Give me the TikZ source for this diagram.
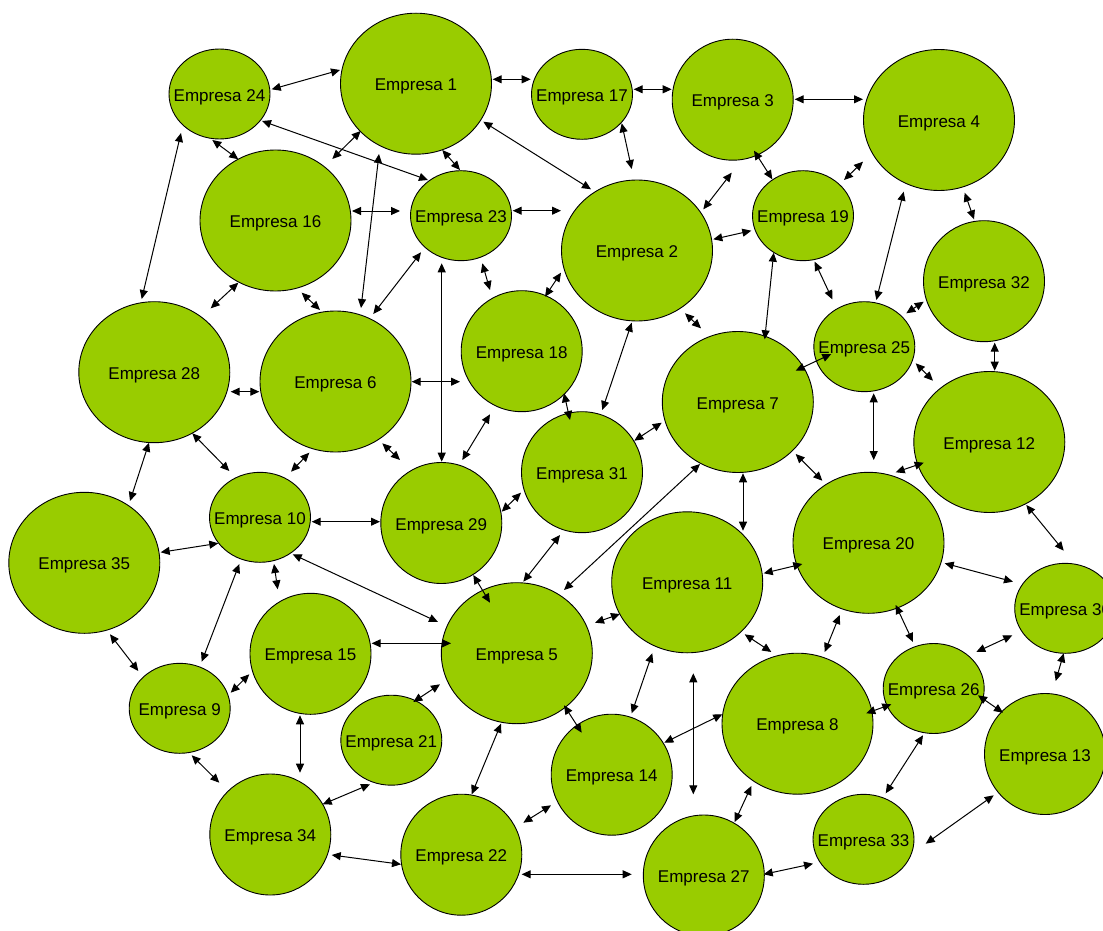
\documentclass[tikz,border=0pt]{standalone}
\usepackage{fontspec}
\setmainfont{Liberation Sans}
\usetikzlibrary{shapes.geometric,arrows.meta}
\definecolor{leaf}{RGB}{153,204,0}
\tikzset{
  firm/.style={ellipse, draw=black, line width=0.9pt, fill=leaf, inner sep=0pt},
  big/.style={firm, minimum width=151pt, minimum height=141pt},
  mid/.style={firm, minimum width=121pt, minimum height=121pt},
  small/.style={firm, minimum width=101pt, minimum height=90pt},
  link/.style={draw=black, line width=1pt,
    {Triangle[length=9pt,width=8pt]}-{Triangle[length=9pt,width=8pt]}},
}
% one company: size style, number, centre
\newcommand\firm[4]{\node[#1, label={[yshift=-3pt]center:{Empresa #2}}] (e#2) at (#3,#4) {};}
% one two-way relation between named end points
\newcommand\lnk[3]{\coordinate (#1a) at (#2); \coordinate (#1b) at (#3); \draw[link] (#1a) -- (#1b);}
\begin{document}
\begin{tikzpicture}[x=1pt,y=-1pt,font=\fontsize{17}{20}\selectfont]
\useasboundingbox (0,0) rectangle (1103,931);
\fill[white] (0,0) rectangle (1103,931);
\clip (0,0) rectangle (1103,931);

% companies
\firm{big}{1}{416}{83.7}
\firm{big}{16}{275.5}{220.5}
\firm{big}{2}{637}{250.5}
\firm{big}{4}{939}{120}
\firm{big}{28}{154.3}{372.2}
\firm{big}{6}{335.5}{381.5}
\firm{big}{7}{737.8}{402}
\firm{big}{12}{989.3}{442}
\firm{big}{35}{84.3}{562.8}
\firm{big}{20}{868.5}{542.8}
\firm{big}{11}{687.2}{582.3}
\firm{big}{5}{516.8}{653.2}
\firm{big}{8}{797.5}{723.7}
\firm{mid}{3}{732.7}{99.7}
\firm{mid}{18}{521.7}{351.2}
\firm{mid}{32}{984}{281.2}
\firm{mid}{31}{582}{472.2}
\firm{mid}{29}{441.3}{523}
\firm{mid}{15}{310.5}{653.8}
\firm{mid}{34}{270.3}{834.5}
\firm{mid}{14}{611.7}{774.7}
\firm{mid}{22}{461.3}{854.7}
\firm{mid}{27}{703.8}{875.5}
\firm{mid}{13}{1045}{754}
\firm{small}{24}{219.5}{94}
\firm{small}{17}{582}{94.3}
\firm{small}{23}{461}{215.7}
\firm{small}{19}{803}{215.7}
\firm{small}{25}{864.3}{346.7}
\firm{small}{10}{260}{517.3}
\firm{small}{30}{1065.2}{608.3}
\firm{small}{9}{179.7}{708.3}
\firm{small}{21}{391.3}{740.2}
\firm{small}{26}{933.7}{688.5}
\firm{small}{33}{863.5}{839.3}

% relations
\lnk{r24-1}{271.7,89.3}{340,70}
\lnk{r24-23}{262,121}{428,180}
\lnk{r24-28}{181,133}{141.7,299}
\lnk{r24-16}{212.3,140}{238.3,159.3}
\lnk{r16-1}{332.3,159}{360.7,131}
\lnk{r16-23}{352,211}{400,211}
\lnk{r16-28}{238.3,282.7}{210.7,308.3}
\lnk{r16-6}{301.7,292.7}{320,310}
\lnk{r1-6}{379,154}{361,308}
\lnk{r1-23}{442.3,150}{460,170}
\lnk{r1-17}{492.7,79.3}{530.7,79.3}
\lnk{r17-3}{633.7,89.3}{671.7,89.3}
\lnk{r1-2}{483.3,121.7}{591,189.3}
\lnk{r17-2}{621.7,123.3}{631.7,169}
\lnk{r23-2}{512.7,210.7}{561,210.7}
\lnk{r2-3}{703.3,209.3}{731.7,172.7}
\lnk{r2-19}{713.3,239.3}{751.3,230.7}
\lnk{r23-6}{421,252.3}{373.3,314}
\lnk{r23-29}{441.7,263.3}{441.7,461.7}
\lnk{r23-18}{482.3,263.3}{490,290}
\lnk{r18-2}{545,296.7}{561,272.7}
\lnk{r3-4}{794.7,99.3}{863,99.3}
\lnk{r3-19}{754,150.7}{772.3,179.3}
\lnk{r19-4}{844,180}{863,161.7}
\lnk{r4-25}{903.7,191.7}{876.3,300}
\lnk{r4-32}{964.7,192.7}{974,219.3}
\lnk{r19-7}{773.7,252.7}{764.7,339.3}
\lnk{r19-25}{814.7,261.7}{832.3,299.3}
\lnk{r25-32}{906.3,313.3}{923.7,301.7}
\lnk{r28-6}{230.7,391.7}{259.3,391.7}
\lnk{r28-35}{149,442.7}{130,501}
\lnk{r28-10}{192.3,433.3}{229.3,471}
\lnk{r6-10}{309.3,452.7}{291,471.7}
\lnk{r10-29}{311.7,521.7}{380,521.7}
\lnk{r35-10}{160.7,552.3}{218.3,543.3}
\lnk{r10-15}{274,564}{277.7,589.3}
\lnk{r10-9}{239.3,564}{201.7,661.7}
\lnk{r10-5}{292.7,554.3}{438,622}
\lnk{r6-18}{411.7,381.7}{460,381.7}
\lnk{r6-29}{382.3,443.3}{400,460}
\lnk{r18-29}{490,414.3}{462.3,460}
\lnk{r18-31}{564,393.3}{570,420}
\lnk{r2-31}{631.7,322.7}{602.3,410}
\lnk{r31-7}{634.3,440.7}{661.7,422.7}
\lnk{r29-31}{501.7,511.7}{521,492.7}
\lnk{r31-5}{560,535}{523.3,581.7}
\lnk{r7-5}{700,464}{564,590}
\lnk{r29-5}{473.3,575}{490,602.7}
\lnk{r5-11}{595,622.7}{620,614}
\lnk{r2-7}{685,313.3}{701,328.3}
\lnk{r7-25}{795.7,370.7}{831.3,354}
\lnk{r25-12}{915.7,363.3}{933,380.7}
\lnk{r32-12}{994.7,342.7}{994.7,370.7}
\lnk{r25-20}{873.7,393.3}{873.7,460}
\lnk{r7-20}{795.7,454}{822.3,480.7}
\lnk{r7-11}{743,473.3}{743,530.7}
\lnk{r20-12}{895.7,472.3}{923.7,462.7}
\lnk{r12-30}{1026.3,505}{1063.7,550.7}
\lnk{r11-20}{763.7,573.3}{802.3,564}
\lnk{r20-30}{944.7,563.3}{1013,581.7}
\lnk{r20-26}{895.7,605}{913,642}
\lnk{r20-8}{839.7,615}{824.7,652}
\lnk{r11-8}{744.7,634.3}{771.3,652}
\lnk{r26-30}{976.3,652}{1012.3,635.3}
\lnk{r30-13}{1063.7,653.3}{1055.7,681}
\lnk{r8-26}{866.3,713.3}{891.3,704.3}
\lnk{r26-13}{978,695.3}{1003,712.7}
\lnk{r26-33}{923,735.3}{885.7,793.3}
\lnk{r8-27}{751.3,786}{734.7,822}
\lnk{r33-13}{925.7,843.7}{993.7,795.3}
\lnk{r27-33}{763.7,874.3}{813,863.7}
\lnk{r15-5}{371.7,643.3}{451,643.3}
\lnk{r21-5}{413.3,702}{440,684.3}
\lnk{r5-14}{564,705.3}{581.7,732.7}
\lnk{r5-22}{501,723.7}{471.7,794.3}
\lnk{r11-14}{652.3,653.3}{631.7,713.3}
\lnk{r14-8}{664.3,742.7}{722.3,714.3}
\lnk{r11-27}{693.3,673.3}{693.3,794.3}
\lnk{r22-14}{523.3,822.7}{551,805.3}
\lnk{r22-27}{521.7,874.3}{631.7,874.3}
\lnk{r34-22}{331.7,855}{401,864.3}
\lnk{r34-21}{322.7,804.3}{370,784.3}
\lnk{r35-9}{110,634.3}{138.3,671}
\lnk{r9-15}{230.7,692.7}{249.3,674.3}
\lnk{r15-34}{300,715.3}{300,772.7}
\lnk{r9-34}{191.7,755.3}{219.3,782.7}
\end{tikzpicture}
\end{document}
